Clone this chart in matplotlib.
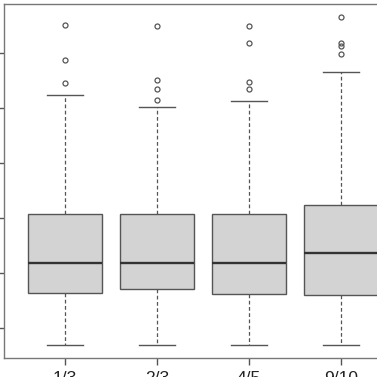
import matplotlib
matplotlib.use("Agg")
import matplotlib.pyplot as plt

plt.rcParams["font.family"] = ["Liberation Sans", "DejaVu Sans"]

groups = ["1/3", "2/3", "4/5", "9/10"]
whisker_low = [0.69, 0.69, 0.69, 0.69]
q1 = [1.64, 1.71, 1.62, 1.60]
median = [2.18, 2.18, 2.18, 2.36]
q3 = [3.07, 3.07, 3.07, 3.24]
whisker_high = [5.24, 5.02, 5.13, 5.66]
outliers = [
    [5.45, 5.87, 6.51],
    [5.15, 5.35, 5.51, 6.49],
    [5.35, 5.47, 6.18, 6.49],
    [5.98, 6.13, 6.18, 6.66],
]
y_ticks = [1, 2, 3, 4, 5, 6]

stats = []
for i, name in enumerate(groups):
    stats.append({
        "label": name,
        "whislo": whisker_low[i],
        "q1": q1[i],
        "med": median[i],
        "q3": q3[i],
        "whishi": whisker_high[i],
        "fliers": outliers[i],
    })

fig = plt.figure(figsize=(3.77, 3.77), dpi=100)
# axes runs past the right edge of the figure, like the cropped original
ax = fig.add_axes([4 / 377, 19 / 377, 398 / 377, 354 / 377])

edge = "#555555"
ax.bxp(
    stats,
    positions=range(1, len(groups) + 1),
    widths=0.8,
    patch_artist=True,
    boxprops=dict(facecolor="#d3d3d3", edgecolor=edge, linewidth=1.0),
    medianprops=dict(color="#333333", linewidth=1.7),
    whiskerprops=dict(color=edge, linestyle=(0, (3, 2)), linewidth=0.9),
    capprops=dict(color=edge, linewidth=1.0),
    capwidths=0.4,
    flierprops=dict(marker="o", markersize=3.6, markerfacecolor="none",
                    markeredgecolor=edge, markeredgewidth=0.9),
)

ax.set_xlim(0.337, 4.663)
ax.set_ylim(1 - 30 / 55, 1 + 324 / 55)
ax.set_yticks(y_ticks)
ax.set_xticks(range(1, len(groups) + 1))
ax.set_xticklabels(groups)
for s in ax.spines.values():
    s.set_color("#777777")
    s.set_linewidth(1.0)
ax.tick_params(axis="both", direction="out", length=5, width=1.0,
               color="#555555", labelsize=12.5, pad=4.2, labelcolor="#222222")

fig.savefig("out.png", dpi=100)
